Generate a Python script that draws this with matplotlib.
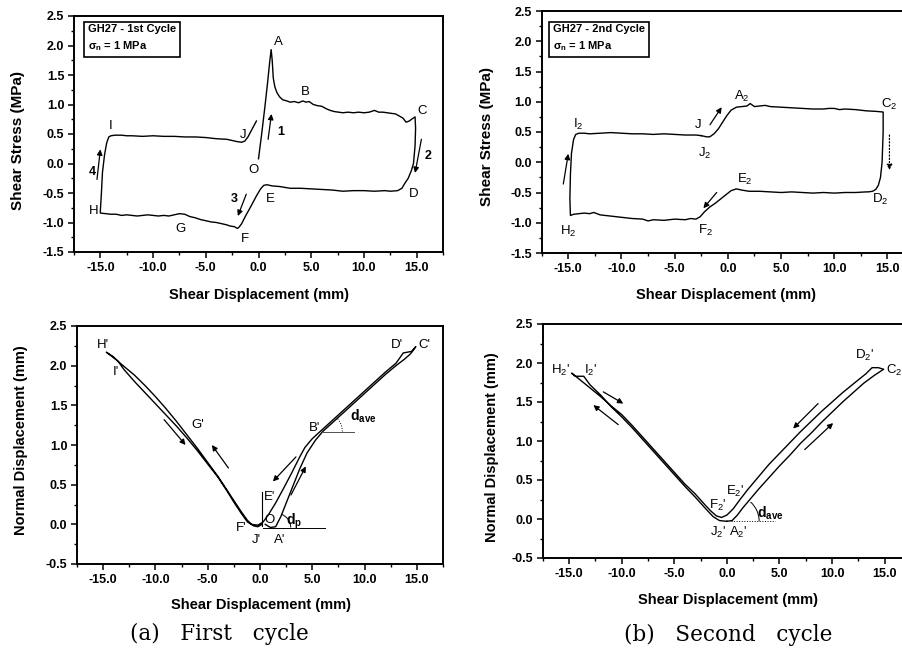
import numpy as np
import matplotlib
matplotlib.use("Agg")
import matplotlib.pyplot as plt
from matplotlib.patches import Arc
from matplotlib.ticker import MultipleLocator, FormatStrFormatter

plt.rcParams['font.family'] = ['Liberation Sans', 'DejaVu Sans']
plt.rcParams['font.weight'] = 'bold'
plt.rcParams['axes.unicode_minus'] = False

# ---- shear stress, 1st cycle (O-A-B-C-D-E-F-G-H-I-J) ----
s1_x = [0.0, 0.3, 0.6, 0.85, 1.05, 1.2, 1.3, 1.4, 1.55, 1.75, 2.0, 2.3, 2.7, 3.0, 3.4, 3.8, 4.2, 4.5, 4.8, 5.2,
        5.6, 6.0, 6.4, 6.8, 7.2, 7.6, 8.0, 8.5, 9.0, 9.5, 10.0, 10.5, 11.0, 11.4, 11.8, 12.2, 12.6, 13.0, 13.4, 13.7,
        14.0, 14.3, 14.6, 14.85,
        14.9, 14.85, 14.7, 14.5, 14.2, 13.9, 13.6, 13.2, 12.5, 12.0, 11.0, 10.0, 9.0, 8.0, 7.0, 6.0, 5.0, 4.0, 3.0, 2.0,
        1.3, 0.8, 0.5, 0.2, -0.2, -0.7, -1.2, -1.6, -1.85, -2.0, -2.3, -2.7, -3.0, -3.5, -4.0, -4.5, -5.0, -5.5, -6.0, -6.5,
        -7.0, -7.5, -8.0, -8.5, -9.0, -9.5, -10.0, -10.5, -11.0, -11.5, -12.0, -12.5, -13.0, -13.5, -14.0, -14.5, -15.0,
        -15.0, -14.9, -14.8, -14.6, -14.4, -14.2, -14.0, -13.6, -13.0, -12.5, -12.0, -11.0, -10.0, -9.0, -8.0, -7.0,
        -6.0, -5.0, -4.0, -3.0, -2.5, -2.0, -1.6, -1.3, -1.0, -0.7, -0.4, -0.2]
s1_y = [0.08, 0.5, 0.95, 1.35, 1.7, 1.93, 1.75, 1.45, 1.3, 1.2, 1.13, 1.08, 1.06, 1.04, 1.05, 1.03, 1.06, 1.04, 1.05, 1.0,
        0.98, 0.97, 0.93, 0.9, 0.88, 0.87, 0.86, 0.87, 0.86, 0.87, 0.86, 0.87, 0.9, 0.87, 0.87, 0.86, 0.85, 0.84, 0.8, 0.77,
        0.7, 0.72, 0.76, 0.79,
        0.6, 0.3, 0.0, -0.12, -0.25, -0.33, -0.42, -0.46, -0.47, -0.46, -0.47, -0.46, -0.46, -0.47, -0.45, -0.44, -0.43, -0.42, -0.42, -0.39,
        -0.38, -0.36, -0.37, -0.43, -0.55, -0.72, -0.88, -1.02, -1.08, -1.1, -1.07, -1.06, -1.04, -1.02, -1.0, -0.99, -0.97, -0.95, -0.92, -0.9,
        -0.86, -0.85, -0.87, -0.89, -0.88, -0.89, -0.88, -0.87, -0.88, -0.89, -0.88, -0.87, -0.88, -0.86, -0.86, -0.85, -0.84,
        -0.8, -0.5, -0.15, 0.15, 0.35, 0.45, 0.47, 0.48, 0.48, 0.47, 0.47, 0.46, 0.47, 0.46, 0.46, 0.45,
        0.45, 0.44, 0.42, 0.41, 0.39, 0.37, 0.36, 0.38, 0.45, 0.55, 0.65, 0.72]

# ---- shear stress, 2nd cycle (J2-A2-C2-D2-E2-F2-H2-I2-J2) ----
s2_x = [-2.5, -2.0, -1.7, -1.3, -0.9, -0.5, -0.1, 0.3, 0.8, 1.3, 1.8, 2.1, 2.5, 3.0, 3.5, 4.0, 5.0, 6.0, 7.0, 8.0,
        9.0, 9.5, 10.0, 10.5, 11.0, 12.0, 12.5, 13.0, 14.0, 14.6,
        14.6, 14.5, 14.35, 14.15, 13.9, 13.6, 13.2, 13.0, 12.0, 11.0, 10.0, 9.0, 8.0, 7.0, 6.0, 5.0, 4.0, 3.0, 2.0, 1.3,
        0.8, 0.3, -0.2, -0.7, -1.2, -1.7, -2.2, -2.6, -3.0, -3.5, -4.0, -5.0, -6.0, -7.0, -7.5, -8.0, -9.0, -10.0, -11.0, -12.0,
        -12.6, -13.0, -13.5, -14.0, -14.5, -14.8,
        -14.85, -14.8, -14.7, -14.5, -14.3, -14.0, -13.5, -13.0, -12.0, -11.0, -10.0, -9.0, -8.0, -7.0, -6.0, -5.0,
        -4.0, -3.0, -2.5]
s2_y = [0.44, 0.42, 0.42, 0.47, 0.55, 0.66, 0.77, 0.86, 0.91, 0.92, 0.93, 0.97, 0.92, 0.93, 0.94, 0.92, 0.91, 0.9, 0.89, 0.88,
        0.88, 0.89, 0.89, 0.87, 0.88, 0.87, 0.86, 0.85, 0.84, 0.83,
        0.5, 0.0, -0.25, -0.38, -0.45, -0.48, -0.49, -0.49, -0.5, -0.5, -0.51, -0.5, -0.51, -0.5, -0.49, -0.5, -0.49, -0.48, -0.48, -0.46,
        -0.44, -0.47, -0.54, -0.61, -0.68, -0.74, -0.82, -0.9, -0.94, -0.93, -0.95, -0.94, -0.96, -0.95, -0.97, -0.94, -0.93, -0.91, -0.89, -0.87,
        -0.83, -0.85, -0.84, -0.85, -0.86, -0.88,
        -0.6, -0.2, 0.15, 0.38, 0.46, 0.48, 0.48, 0.47, 0.48, 0.49, 0.48, 0.47, 0.47, 0.46, 0.47, 0.46,
        0.45, 0.45, 0.44]

# ---- normal displacement, 1st cycle (O-A'-B'-C'-D'-E'-F'-G'-H'-I'-J') ----
n1_x = [0.5, 1.0, 1.5, 2.0, 2.6, 3.2, 3.8, 4.5, 5.3, 6.0, 7.0, 8.0, 9.0, 10.0, 11.0, 12.0, 13.0, 13.8, 14.4, 14.9,
        14.5, 13.7, 13.0, 12.0, 11.0, 10.0, 9.0, 8.0, 7.0, 6.0, 5.0, 4.3, 3.8, 3.0, 2.2, 1.5, 0.8, 0.3, -0.2, -0.8,
        -1.2, -1.8, -2.5, -3.2, -4.0, -5.0, -6.0, -7.0, -8.0, -9.0, -10.0, -11.0, -12.0, -13.0, -13.8, -14.7,
        -14.1, -13.6, -13.0, -12.0, -11.0, -10.0, -9.0, -8.0, -7.0, -6.0, -5.0, -4.0, -3.2, -2.5, -1.8, -1.2, -0.6, -0.2, 0.2]
n1_y = [0.0, -0.04, -0.03, 0.1, 0.3, 0.5, 0.7, 0.9, 1.06, 1.17, 1.29, 1.41, 1.53, 1.65, 1.77, 1.89, 2.0, 2.08, 2.15, 2.24,
        2.18, 2.16, 2.03, 1.92, 1.8, 1.68, 1.56, 1.44, 1.32, 1.2, 1.08, 0.97, 0.85, 0.64, 0.44, 0.27, 0.12, 0.03, -0.01, 0.0,
        0.05, 0.16, 0.3, 0.44, 0.6, 0.78, 0.96, 1.13, 1.3, 1.46, 1.61, 1.75, 1.88, 1.99, 2.08, 2.17,
        2.12, 2.06, 1.95, 1.8, 1.66, 1.52, 1.38, 1.24, 1.09, 0.93, 0.76, 0.59, 0.43, 0.28, 0.14, 0.03, -0.02, -0.03, 0.0]

# ---- normal displacement, 2nd cycle (A2'-C2'-D2'-E2'-F2'-H2'-I2'-J2') ----
n2_x = [0.0, 0.5, 1.0, 1.5, 2.0, 3.0, 4.0, 5.0, 6.0, 7.0, 8.0, 9.0, 10.0, 11.0, 12.0, 13.0, 14.0, 14.9,
        14.4, 13.8, 13.2, 12.0, 11.0, 10.0, 9.0, 8.0, 7.0, 6.0, 5.0, 4.0, 3.0, 2.0, 1.2, 0.6, 0.0, -0.5, -1.0,
        -1.5, -2.0, -3.0, -4.0, -5.0, -6.0, -7.0, -8.0, -9.0, -10.0, -11.0, -12.0, -13.0, -14.0, -14.75,
        -14.4, -14.0, -13.6, -13.0, -12.0, -11.0, -10.0, -9.0, -8.0, -7.0, -6.0, -5.0, -4.0, -3.0, -2.0, -1.3, -0.7, 0.0]
n2_y = [-0.03, -0.02, 0.05, 0.14, 0.22, 0.38, 0.53, 0.68, 0.82, 0.97, 1.1, 1.24, 1.37, 1.5, 1.62, 1.74, 1.84, 1.92,
        1.94, 1.94, 1.86, 1.73, 1.62, 1.5, 1.38, 1.25, 1.12, 0.98, 0.84, 0.7, 0.54, 0.38, 0.24, 0.13, 0.05, 0.02, 0.04,
        0.1, 0.17, 0.32, 0.45, 0.6, 0.75, 0.9, 1.05, 1.2, 1.34, 1.45, 1.57, 1.68, 1.79, 1.87,
        1.83, 1.83, 1.83, 1.72, 1.59, 1.44, 1.31, 1.17, 1.02, 0.87, 0.72, 0.57, 0.42, 0.28, 0.13, 0.03, -0.02, -0.03]


def setup(ax, ylo, yhi):
    ax.set_xlim(-17.5, 17.5)
    ax.set_ylim(ylo, yhi)
    ax.xaxis.set_major_locator(MultipleLocator(5))
    ax.xaxis.set_minor_locator(MultipleLocator(2.5))
    ax.yaxis.set_major_locator(MultipleLocator(0.5))
    ax.yaxis.set_minor_locator(MultipleLocator(0.25))
    ax.xaxis.set_major_formatter(FormatStrFormatter('%.1f'))
    ax.yaxis.set_major_formatter(FormatStrFormatter('%.1f'))
    ax.tick_params(which='major', direction='out', length=4, width=1.1, labelsize=9, pad=3)
    ax.tick_params(which='minor', direction='out', length=2.5, width=1.0)
    for sp in ax.spines.values():
        sp.set_linewidth(1.4)


def lab(ax, x, y, s, size=9.5, weight='normal'):
    ax.text(x, y, s, fontsize=size, fontweight=weight, ha='center', va='center')


def arrow(ax, tail, head, ls='-'):
    ax.annotate('', xy=head, xytext=tail,
                arrowprops=dict(arrowstyle='-|>', color='black', lw=0.9, ls=ls,
                                mutation_scale=8, shrinkA=0, shrinkB=0))


def angle_arc(ax, center, r_px, slope, pxx, pxy, ls='-'):
    ax.add_patch(Arc(center, 2 * r_px / pxx, 2 * r_px / pxy, theta1=0,
                     theta2=np.degrees(np.arctan(slope)), lw=0.7, ls=ls, color='black'))


fig = plt.figure(figsize=(9.03, 6.51), dpi=100)
W, H = 903.0, 651.0

ax1 = fig.add_axes([74 / W, 1 - 252 / H, 369 / W, 236 / H])
ax2 = fig.add_axes([541.7 / W, 1 - 253 / H, 372.3 / W, 242 / H])
ax3 = fig.add_axes([77 / W, 1 - 564 / H, 366 / W, 238 / H])
ax4 = fig.add_axes([542.7 / W, 1 - 558 / H, 368.3 / W, 234 / H])

# ---------- panel 1 ----------
setup(ax1, -1.5, 2.5)
ax1.plot(s1_x, s1_y, color='black', lw=1.0)
ax1.text(-16.2, 2.36, 'GH27 - 1st Cycle\nσ$_\\mathregular{n}$ = 1 MPa', fontsize=8, va='top', ha='left',
         linespacing=1.5, bbox=dict(boxstyle='square,pad=0.35', fc='white', ec='black', lw=1.2))
for s, x, y in [('A', 1.86, 2.06), ('B', 4.41, 1.21), ('C', 15.54, 0.89), ('D', 14.69, -0.52),
                ('E', 1.13, -0.61), ('F', -1.32, -1.28), ('G', -7.36, -1.11), ('H', -15.64, -0.81),
                ('I', -14.05, 0.64), ('J', -1.48, 0.48), ('O', -0.52, -0.11)]:
    lab(ax1, x, y, s)
for s, x, y in [('1', 2.12, 0.54), ('2', 16.12, 0.13), ('3', -2.27, -0.61), ('4', -15.8, -0.14)]:
    lab(ax1, x, y, s, size=9, weight='bold')
arrow(ax1, (0.91, 0.41), (1.23, 0.84))
arrow(ax1, (15.45, 0.41), (14.85, -0.16))
arrow(ax1, (-1.16, -0.52), (-1.96, -0.89))
arrow(ax1, (-15.32, -0.27), (-15.0, 0.24))

# ---------- panel 2 ----------
setup(ax2, -1.5, 2.5)
ax2.plot(s2_x, s2_y, color='black', lw=1.0)
ax2.text(-16.44, 2.28, 'GH27 - 2nd Cycle\nσ$_\\mathregular{n}$ = 1 MPa', fontsize=8, va='top', ha='left',
         linespacing=1.5, bbox=dict(boxstyle='square,pad=0.35', fc='white', ec='black', lw=1.2))
for s, x, y in [('J', -2.77, 0.62), ('J$_\\mathregular{2}$', -2.15, 0.15), ('A$_\\mathregular{2}$', 1.3, 1.08),
                ('C$_\\mathregular{2}$', 15.2, 0.96), ('E$_\\mathregular{2}$', 1.61, -0.29),
                ('D$_\\mathregular{2}$', 14.31, -0.62), ('F$_\\mathregular{2}$', -2.15, -1.12),
                ('H$_\\mathregular{2}$', -15.0, -1.15), ('I$_\\mathregular{2}$', -14.06, 0.62)]:
    lab(ax2, x, y, s)
arrow(ax2, (-1.68, 0.62), (-0.58, 0.91))
arrow(ax2, (15.19, 0.45), (15.19, -0.13), ls=':')
arrow(ax2, (-1.05, -0.5), (-2.3, -0.76))
arrow(ax2, (-15.47, -0.36), (-15.0, 0.14))

# ---------- panel 3 ----------
setup(ax3, -0.5, 2.5)
ax3.plot(n1_x, n1_y, color='black', lw=1.0)
ax3.plot([0.3, 6.2], [-0.04, -0.04], color='black', lw=0.7)
ax3.plot([5.96, 9.0], [1.17, 1.17], color='0.3', lw=0.7)
ax3.plot([0.22, 0.22], [-0.02, 0.41], color='black', lw=0.8)
angle_arc(ax3, (1.6, -0.04), 14, 0.33, 366 / 35, 238 / 3)
angle_arc(ax3, (5.96, 1.17), 20, 0.12, 366 / 35, 238 / 3, ls=':')
for s, x, y in [("H'", -15.0, 2.26), ("I'", -13.74, 1.92), ("G'", -6.0, 1.25), ("B'", 5.17, 1.21),
                ("D'", 13.05, 2.26), ("C'", 15.73, 2.26), ("E'", 0.92, 0.35), ("F'", -1.76, -0.05),
                ("J'", -0.34, -0.2), ("A'", 1.86, -0.2), ('O', 0.92, 0.05)]:
    lab(ax3, x, y, s)
ax3.text(9.9, 1.36, '$\\mathregular{d_{ave}}$', fontsize=10, fontweight='bold', ha='center', va='center')
ax3.text(3.28, 0.04, '$\\mathregular{d_{p}}$', fontsize=10, fontweight='bold', ha='center', va='center')
arrow(ax3, (-9.17, 1.32), (-7.12, 1.0))
arrow(ax3, (-3.02, 0.71), (-4.6, 1.0))
arrow(ax3, (3.44, 0.85), (1.23, 0.54))
arrow(ax3, (2.96, 0.37), (4.38, 0.73))

# ---------- panel 4 ----------
setup(ax4, -0.5, 2.5)
ax4.plot(n2_x, n2_y, color='black', lw=1.0)
ax4.plot([0.44, 4.6], [-0.03, -0.03], color='black', lw=0.7, ls=':')
angle_arc(ax4, (0.6, -0.03), 26, 0.15, 368.3 / 35, 234 / 3)
for s, x, y in [("H$_\\mathregular{2}$'", -15.85, 1.91), ("I$_\\mathregular{2}$'", -13.0, 1.91),
                ("D$_\\mathregular{2}$'", 13.1, 2.1), ("C$_\\mathregular{2}$'", 16.0, 1.91),
                ("E$_\\mathregular{2}$'", 0.75, 0.35), ("F$_\\mathregular{2}$'", -0.9, 0.18),
                ("J$_\\mathregular{2}$'", -0.8, -0.17), ("A$_\\mathregular{2}$'", 1.1, -0.17)]:
    lab(ax4, x, y, s)
ax4.text(4.1, 0.07, '$\\mathregular{d_{ave}}$', fontsize=10, fontweight='bold', ha='center', va='center')
arrow(ax4, (-11.74, 1.63), (-9.84, 1.48))
arrow(ax4, (-10.32, 1.21), (-12.69, 1.46))
arrow(ax4, (8.67, 1.48), (6.3, 1.16))
arrow(ax4, (7.4, 0.89), (10.1, 1.23))

# ---------- axis titles and captions ----------
fig.text(259 / W, 1 - 295 / H, 'Shear Displacement (mm)', fontsize=10.5, ha='center', va='center')
fig.text(726 / W, 1 - 295 / H, 'Shear Displacement (mm)', fontsize=10.5, ha='center', va='center')
fig.text(261 / W, 1 - 605 / H, 'Shear Displacement (mm)', fontsize=10.5, ha='center', va='center')
fig.text(728 / W, 1 - 600 / H, 'Shear Displacement (mm)', fontsize=10.5, ha='center', va='center')
fig.text(18 / W, 1 - 140 / H, 'Shear Stress (MPa)', fontsize=11, rotation=90, ha='center', va='center')
fig.text(487 / W, 1 - 137 / H, 'Shear Stress (MPa)', fontsize=11, rotation=90, ha='center', va='center')
fig.text(21 / W, 1 - 440 / H, 'Normal Displacement (mm)', fontsize=10.5, rotation=90, ha='center', va='center')
fig.text(492 / W, 1 - 447 / H, 'Normal Displacement (mm)', fontsize=10.5, rotation=90, ha='center', va='center')
fig.text(219 / W, 1 - 634 / H, '(a)   First   cycle', family='DejaVu Serif', fontsize=15.5, fontweight='normal',
         ha='center', va='center')
fig.text(728 / W, 1 - 635 / H, '(b)   Second   cycle', family='DejaVu Serif', fontsize=15.5, fontweight='normal',
         ha='center', va='center')

fig.savefig('out.png', dpi=100)
